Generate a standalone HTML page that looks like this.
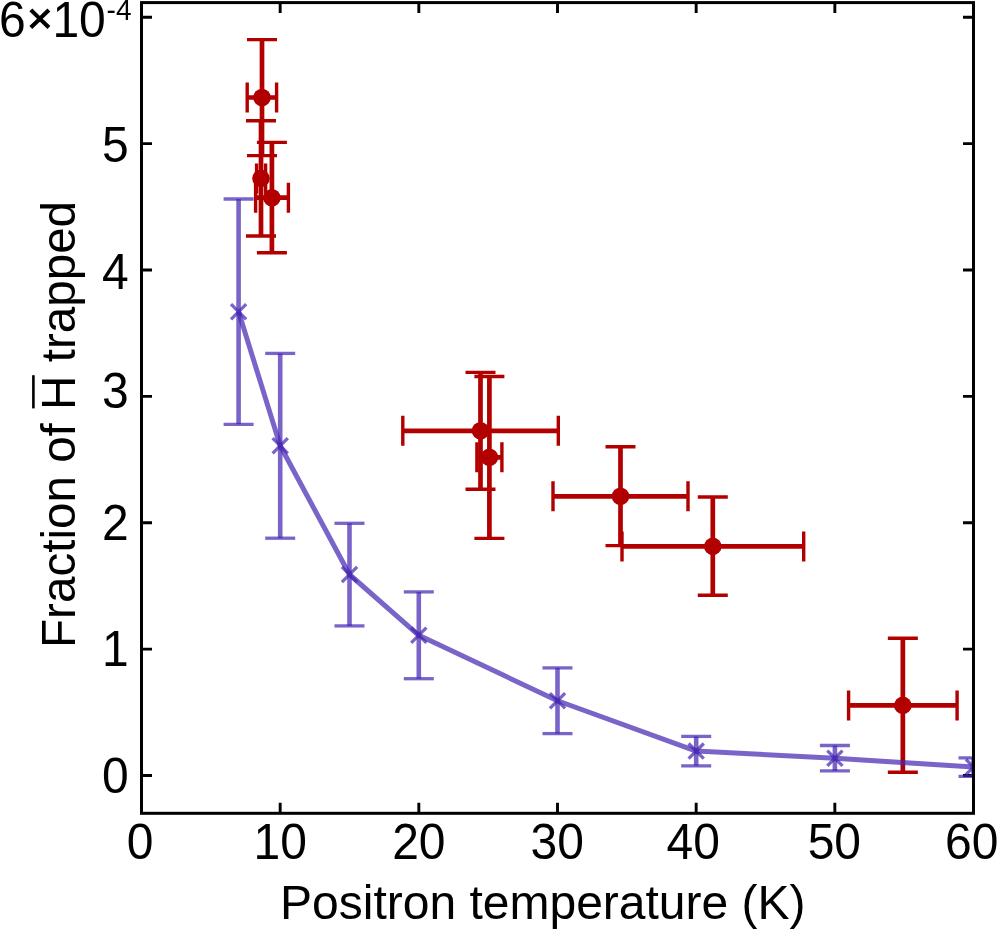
<!DOCTYPE html>
<html><head><meta charset="utf-8"><title>Fraction of antihydrogen trapped vs positron temperature</title>
<style>
html,body{margin:0;padding:0;background:#fff;}
body{width:997px;height:929px;overflow:hidden;}
svg{display:block;}
text{font-family:"Liberation Sans",sans-serif;fill:#000;}
</style></head><body>
<svg width="997" height="929" viewBox="0 0 997 929">
<defs><clipPath id="plot"><rect x="141.5" y="2.6" width="832" height="810.7"/></clipPath></defs>
<rect x="0" y="0" width="997" height="929" fill="#fff"/>

<path d="M141.5 775.5h10.5M973.5 775.5h-10.5M141.5 649.12h10.5M973.5 649.12h-10.5M141.5 522.74h10.5M973.5 522.74h-10.5M141.5 396.36h10.5M973.5 396.36h-10.5M141.5 269.98h10.5M973.5 269.98h-10.5M141.5 143.6h10.5M973.5 143.6h-10.5M141.5 17.22h10.5M973.5 17.22h-10.5M280.17 813.3v-10.5M280.17 2.6v10.5M418.83 813.3v-10.5M418.83 2.6v10.5M557.5 813.3v-10.5M557.5 2.6v10.5M696.17 813.3v-10.5M696.17 2.6v10.5M834.84 813.3v-10.5M834.84 2.6v10.5" stroke="#000" stroke-width="2.9" fill="none"/>
<g stroke="#b20000" fill="none" stroke-linecap="butt">
<path d="M262 39.6V155.6M247.2 97.5H276.6" stroke-width="4.7"/>
<path d="M247 39.6H277M247 155.6H277M247.2 82.5V112.5M276.6 82.5V112.5" stroke-width="3.4"/>
<path d="M261 120.7V236M256.6 178.4H265.6" stroke-width="4.7"/>
<path d="M246 120.7H276M246 236H276M256.6 163.4V193.4M265.6 163.4V193.4" stroke-width="3.4"/>
<path d="M271.9 142.4V252.8M255.6 197.7H288.4" stroke-width="4.7"/>
<path d="M256.9 142.4H286.9M256.9 252.8H286.9M255.6 182.7V212.7M288.4 182.7V212.7" stroke-width="3.4"/>
<path d="M480.5 372.4V489.3M402.8 430.8H558.3" stroke-width="4.7"/>
<path d="M465.5 372.4H495.5M465.5 489.3H495.5M402.8 415.8V445.8M558.3 415.8V445.8" stroke-width="3.4"/>
<path d="M489.4 376.5V538.4M476.9 457.3H501.9" stroke-width="4.7"/>
<path d="M474.4 376.5H504.4M474.4 538.4H504.4M476.9 442.3V472.3M501.9 442.3V472.3" stroke-width="3.4"/>
<path d="M620.5 446.7V545.6M553 496.3H688" stroke-width="4.7"/>
<path d="M605.5 446.7H635.5M605.5 545.6H635.5M553 481.3V511.3M688 481.3V511.3" stroke-width="3.4"/>
<path d="M712.8 497V595.3M622 546.4H803.7" stroke-width="4.7"/>
<path d="M697.8 497H727.8M697.8 595.3H727.8M622 531.4V561.4M803.7 531.4V561.4" stroke-width="3.4"/>
<path d="M902.85 638.2V772.2M848.6 705.4H957.1" stroke-width="4.7"/>
<path d="M887.85 638.2H917.85M887.85 772.2H917.85M848.6 690.4V720.4M957.1 690.4V720.4" stroke-width="3.4"/>
</g>
<g fill="#b20000">
<circle cx="262" cy="97.5" r="8.8"/>
<circle cx="261" cy="178.4" r="8.8"/>
<circle cx="271.9" cy="197.7" r="8.8"/>
<circle cx="480.5" cy="430.8" r="8.8"/>
<circle cx="489.4" cy="457.3" r="8.8"/>
<circle cx="620.5" cy="496.3" r="8.8"/>
<circle cx="712.8" cy="546.4" r="8.8"/>
<circle cx="902.85" cy="705.4" r="8.8"/>
</g>
<g clip-path="url(#plot)" stroke="rgb(68,37,178)" stroke-opacity="0.71" fill="none">
<path d="M238.6 199V424.3" stroke-width="4.6"/>
<path d="M223.6 199H253.6" stroke-width="3.3"/>
<path d="M223.6 424.3H253.6" stroke-width="3.3"/>
<path d="M280.2 353.4V538.2" stroke-width="4.6"/>
<path d="M265.2 353.4H295.2" stroke-width="3.3"/>
<path d="M265.2 538.2H295.2" stroke-width="3.3"/>
<path d="M349.5 523.3V625.9" stroke-width="4.6"/>
<path d="M334.5 523.3H364.5" stroke-width="3.3"/>
<path d="M334.5 625.9H364.5" stroke-width="3.3"/>
<path d="M418.8 591.9V678.7" stroke-width="4.6"/>
<path d="M403.8 591.9H433.8" stroke-width="3.3"/>
<path d="M403.8 678.7H433.8" stroke-width="3.3"/>
<path d="M557.5 667.9V733.6" stroke-width="4.6"/>
<path d="M542.5 667.9H572.5" stroke-width="3.3"/>
<path d="M542.5 733.6H572.5" stroke-width="3.3"/>
<path d="M696.2 736.4V765.8" stroke-width="4.6"/>
<path d="M681.2 736.4H711.2" stroke-width="3.3"/>
<path d="M681.2 765.8H711.2" stroke-width="3.3"/>
<path d="M834.9 745.5V770.9" stroke-width="4.6"/>
<path d="M819.9 745.5H849.9" stroke-width="3.3"/>
<path d="M819.9 770.9H849.9" stroke-width="3.3"/>
<path d="M973.5 757.8V776.3" stroke-width="4.6"/>
<path d="M958.5 757.8H988.5" stroke-width="3.3"/>
<path d="M958.5 776.3H988.5" stroke-width="3.3"/>
<polyline points="238.6,311.8 280.2,445.7 349.5,574.5 418.8,635.3 557.5,700.75 696.2,751.1 834.9,758.3 973.5,767" stroke-width="5" stroke-linejoin="round"/>
<path d="M231.0 304.2L246.2 319.40000000000003M231.0 319.40000000000003L246.2 304.2" stroke-width="3.3"/>
<path d="M272.59999999999997 438.09999999999997L287.8 453.3M272.59999999999997 453.3L287.8 438.09999999999997" stroke-width="3.3"/>
<path d="M341.9 566.9L357.1 582.1M341.9 582.1L357.1 566.9" stroke-width="3.3"/>
<path d="M411.2 627.6999999999999L426.40000000000003 642.9M411.2 642.9L426.40000000000003 627.6999999999999" stroke-width="3.3"/>
<path d="M549.9 693.15L565.1 708.35M549.9 708.35L565.1 693.15" stroke-width="3.3"/>
<path d="M688.6 743.5L703.8000000000001 758.7M688.6 758.7L703.8000000000001 743.5" stroke-width="3.3"/>
<path d="M827.3 750.6999999999999L842.5 765.9M827.3 765.9L842.5 750.6999999999999" stroke-width="3.3"/>
<path d="M965.9 759.4L981.1 774.6M965.9 774.6L981.1 759.4" stroke-width="3.3"/>
</g>
<rect x="141.5" y="2.6" width="832.0" height="810.7" stroke="#000" stroke-width="3" fill="none"/>
<g>
<text transform="translate(128.8,793.1) scale(1,1.04)" font-size="48" text-anchor="end">0</text>
<text transform="translate(128.8,665.9) scale(1,1.04)" font-size="48" text-anchor="end">1</text>
<text transform="translate(128.8,539.7) scale(1,1.04)" font-size="48" text-anchor="end">2</text>
<text transform="translate(128.8,408.0) scale(1,1.04)" font-size="48" text-anchor="end">3</text>
<text transform="translate(128.8,288.6) scale(1,1.04)" font-size="48" text-anchor="end">4</text>
<text transform="translate(128.8,162.2) scale(1,1.04)" font-size="48" text-anchor="end">5</text>
<text transform="translate(-0.9,36.5) scale(1,1.04)" font-size="48" text-anchor="start">6</text>
<text transform="translate(39.9,33.4) scale(1,0.97)" font-size="44" text-anchor="middle" stroke="#000" stroke-width="1">×</text>
<text transform="translate(52.4,36.5) scale(1,1.04)" font-size="48" text-anchor="start">10</text>
<text transform="translate(106.6,20.0) scale(1,1.04)" font-size="28" text-anchor="start">-4</text>
<text transform="translate(140.2,859.3) scale(1,1.04)" font-size="48" text-anchor="middle">0</text>
<text transform="translate(280.17,859.3) scale(1,1.04)" font-size="48" text-anchor="middle">10</text>
<text transform="translate(418.83,859.3) scale(1,1.04)" font-size="48" text-anchor="middle">20</text>
<text transform="translate(557.2,859.3) scale(1,1.04)" font-size="48" text-anchor="middle">30</text>
<text transform="translate(693.17,859.3) scale(1,1.04)" font-size="48" text-anchor="middle">40</text>
<text transform="translate(834.34,859.3) scale(1,1.04)" font-size="48" text-anchor="middle">50</text>
<text transform="translate(971.7,859.3) scale(1,1.04)" font-size="48" text-anchor="middle">60</text>
</g>
<text x="280" y="918.7" font-size="48">Positron temperature (K)</text>
<g transform="translate(75.2,648) rotate(-90)"><text x="0" y="0" font-size="47.6">Fraction of H trapped</text><path id="hbar" d="M239.6 -41.8h33.2" stroke="#000" stroke-width="2.6" fill="none"/></g>
</svg></body></html>
